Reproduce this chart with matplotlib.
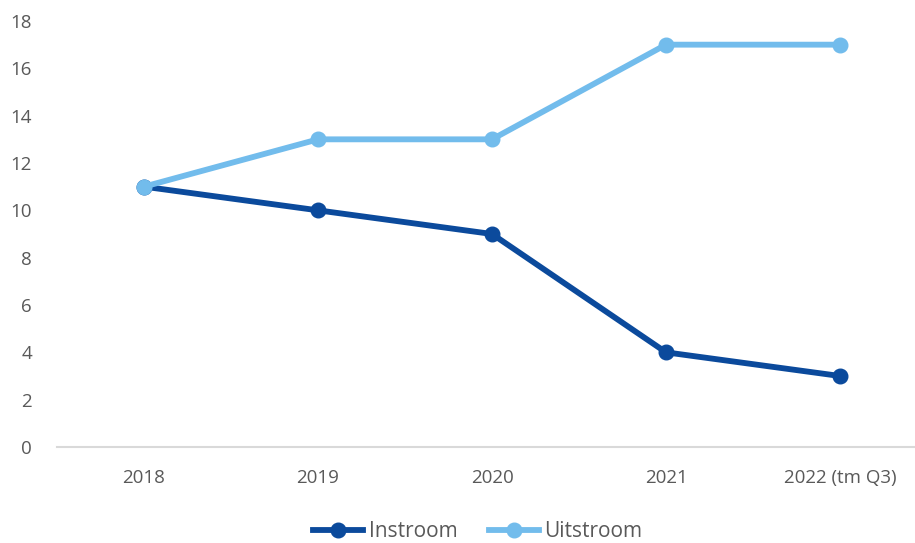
import matplotlib
matplotlib.use('Agg')
import matplotlib.pyplot as plt

years = ['2018', '2019', '2020', '2021', '2022 (tm Q3)']
instroom = [11, 10, 9, 4, 3]
uitstroom = [11, 13, 13, 17, 17]

plt.rcParams['font.family'] = ['Open Sans', 'DejaVu Sans']

fig = plt.figure(figsize=(9.15, 5.43), dpi=100)
ax = fig.add_axes([57 / 915, 96 / 543, 870 / 915, 426 / 543])

x = list(range(len(years)))
ax.plot(x, instroom, color='#0B4A9C', lw=4.2, marker='o', ms=10.5, label='Instroom')
ax.plot(x, uitstroom, color='#72BCEC', lw=4.2, marker='o', ms=10.5, label='Uitstroom')

ax.set_xlim(-0.5, len(years) - 0.5)
ax.set_ylim(0, 18)
ax.set_yticks(range(0, 19, 2))
ax.set_xticks(x)
ax.set_xticklabels(years)

for side in ['top', 'right', 'left']:
    ax.spines[side].set_visible(False)
ax.spines['bottom'].set_color('#D9D9D9')
ax.spines['bottom'].set_linewidth(1.5)
ax.tick_params(axis='both', length=0, labelsize=13.5, labelcolor='#595959')
ax.tick_params(axis='x', pad=16)
ax.tick_params(axis='y', pad=18)

fig.legend(loc='lower center', bbox_to_anchor=(0.522, -0.033), ncol=2, frameon=False,
           fontsize=15, labelcolor='#595959', handlelength=2.4, handletextpad=0.25,
           columnspacing=1.5)

fig.savefig('out.png', dpi=100)
